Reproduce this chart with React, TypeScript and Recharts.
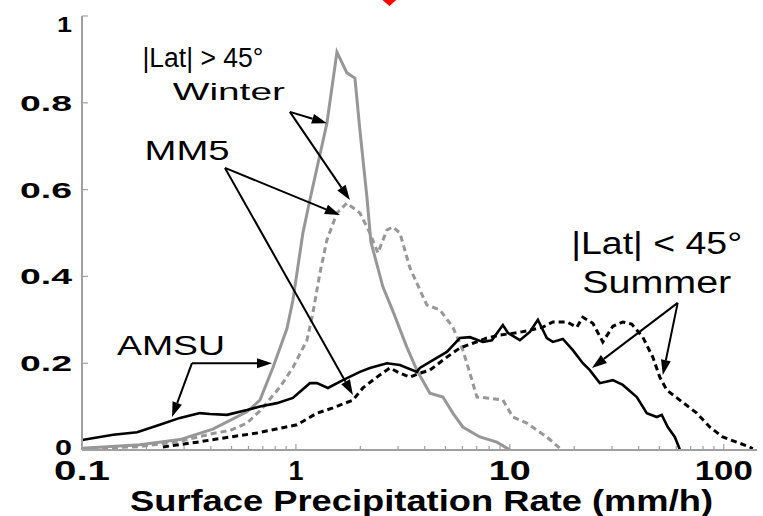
import React from 'react';
import { LineChart, Line, XAxis, YAxis, ReferenceLine, ReferenceDot, Label } from 'recharts';

// log-spaced x ticks (mm/h); only the decades get labels
const xMajorTicks = [0.1, 1, 10, 100];
const xMajorLabels = ['0.1', '1', '10', '100'];
const xMinorTicks = [0.2, 0.3, 0.4, 0.5, 0.6, 0.7, 0.8, 0.9, 2, 3, 4, 5, 6, 7, 8, 9, 20, 30, 40, 50, 60, 70, 80, 90];
const yTicks = [0, 0.2, 0.4, 0.6, 0.8, 1];
const yTickLabels = ['0', '0.2', '0.4', '0.6', '0.8', '1'];

// |Lat| > 45, winter - AMSU (grey solid)
const winterAmsuX = [0.1, 0.187, 0.287, 0.409, 0.59, 0.679, 0.781, 0.908, 0.968, 1.078, 1.162, 1.396, 1.555, 1.731, 1.887, 1.991, 2.147, 2.24, 2.55, 2.84, 3.3, 3.676, 4.229, 4.864, 5.415, 6.031, 7.243, 8.697, 10];
const winterAmsuY = [0.004, 0.012, 0.024, 0.048, 0.088, 0.115, 0.19, 0.28, 0.345, 0.5, 0.576, 0.753, 0.917, 0.869, 0.857, 0.737, 0.583, 0.48, 0.376, 0.32, 0.237, 0.184, 0.131, 0.122, 0.085, 0.053, 0.03, 0.018, 0];

// |Lat| > 45, winter - MM5 (grey dashed)
const winterMm5X = [0.1, 0.187, 0.287, 0.409, 0.492, 0.59, 0.679, 0.842, 0.968, 1.126, 1.2, 1.295, 1.396, 1.555, 1.731, 1.991, 2.217, 2.417, 2.662, 2.84, 3.062, 3.41, 3.796, 4.094, 4.71, 5.415, 6.031, 6.505, 7.014, 7.81, 9.275, 10.33, 12.0, 13.37, 14.89, 17.13];
const winterMm5Y = [0.002, 0.008, 0.02, 0.038, 0.045, 0.062, 0.09, 0.145, 0.19, 0.253, 0.315, 0.408, 0.484, 0.546, 0.569, 0.546, 0.5, 0.454, 0.507, 0.514, 0.5, 0.42, 0.369, 0.334, 0.323, 0.283, 0.23, 0.177, 0.122, 0.12, 0.115, 0.076, 0.062, 0.046, 0.03, 0.004];

// |Lat| < 45, summer - AMSU (black solid)
const summerAmsuX = [0.1, 0.14, 0.181, 0.231, 0.287, 0.356, 0.396, 0.476, 0.59, 0.679, 0.815, 0.968, 1.162, 1.254, 1.411, 1.658, 1.991, 2.217, 2.662, 3.062, 3.676, 3.796, 4.368, 5.078, 5.84, 6.505, 7.48, 8.24, 9.275, 9.79, 11.14, 12.4, 13.52, 14.89, 15.88, 17.69, 19.7, 21.94, 23.65, 26.34, 30.3, 33.73, 39.22, 43.67, 48.63, 51.3, 54.73, 59.02, 62.28];
const summerAmsuY = [0.023, 0.035, 0.041, 0.058, 0.074, 0.085, 0.083, 0.081, 0.092, 0.1, 0.108, 0.12, 0.154, 0.154, 0.143, 0.161, 0.18, 0.189, 0.2, 0.196, 0.18, 0.189, 0.207, 0.226, 0.258, 0.26, 0.249, 0.253, 0.288, 0.27, 0.253, 0.272, 0.3, 0.258, 0.249, 0.256, 0.23, 0.2, 0.184, 0.154, 0.161, 0.15, 0.122, 0.085, 0.076, 0.081, 0.053, 0.03, 0.002];

// |Lat| < 45, summer - MM5 (black dashed)
const summerMm5X = [0.239, 0.345, 0.492, 0.657, 0.842, 1.011, 1.254, 1.489, 1.847, 2.056, 2.391, 2.75, 3.062, 3.41, 3.796, 4.229, 5.078, 5.84, 6.718, 7.81, 8.981, 10.78, 12.4, 14.27, 15.88, 18.47, 20.57, 21.94, 24.43, 27.2, 30.3, 33.73, 37.15, 41.83, 46.58, 50.22, 54.15, 62.28, 74.79, 86.0, 98.9, 115.0, 132.3, 136.6];
const summerMm5Y = [0.007, 0.018, 0.03, 0.039, 0.05, 0.058, 0.085, 0.097, 0.115, 0.143, 0.168, 0.189, 0.177, 0.168, 0.177, 0.184, 0.214, 0.235, 0.246, 0.258, 0.265, 0.27, 0.276, 0.283, 0.295, 0.295, 0.283, 0.306, 0.292, 0.249, 0.285, 0.295, 0.29, 0.26, 0.214, 0.168, 0.138, 0.115, 0.085, 0.053, 0.03, 0.018, 0.007, 0.003];

const zip = (xs: number[], ys: number[]) => xs.map((x, i) => ({ x, y: ys[i] }));

const GRAY = '#979797';
const FRAME = '#a0a0a0';
const FONT = '"Liberation Sans", Arial, Helvetica, sans-serif';

// annotation texts and arrows, in data units
const notes = [
  { text: '|Lat| > 45°', x: 0.3675, y: 0.882, size: 27, w: 121 },
  { text: 'Winter', x: 0.486, y: 0.806, size: 24, w: 112 },
  { text: 'MM5', x: 0.31, y: 0.668, size: 27, w: 85 },
  { text: 'AMSU', x: 0.2606, y: 0.219, size: 27, w: 108 },
  { text: '|Lat| < 45°', x: 48.6, y: 0.452, size: 31, w: 171 },
  { text: 'Summer', x: 48.6, y: 0.362, size: 31, w: 149 },
];
const arrows = [
  [{ x: 0.937, y: 0.779 }, { x: 1.396, y: 0.753 }],
  [{ x: 0.937, y: 0.779 }, { x: 1.788, y: 0.576 }],
  [{ x: 0.466, y: 0.65 }, { x: 1.606, y: 0.5415 }],
  [{ x: 0.466, y: 0.65 }, { x: 1.847, y: 0.127 }],
  [{ x: 0.3266, y: 0.2 }, { x: 0.773, y: 0.2 }],
  [{ x: 0.3266, y: 0.2 }, { x: 0.2636, y: 0.076 }],
  [{ x: 60.9, y: 0.339 }, { x: 24.2, y: 0.189 }],
  [{ x: 60.9, y: 0.339 }, { x: 51.9, y: 0.173 }],
];

const Arrow = (props: any) => {
  const { x1, y1, x2, y2 } = props;
  const dx = x2 - x1, dy = y2 - y1;
  const len = Math.sqrt(dx * dx + dy * dy) || 1;
  const ux = dx / len, uy = dy / len;
  const hl = 15, hw = 5;
  const bx = x2 - ux * hl, by = y2 - uy * hl;
  const pts = `${x2},${y2} ${bx - uy * hw},${by + ux * hw} ${bx + uy * hw},${by - ux * hw}`;
  return (
    <g>
      <line x1={x1} y1={y1} x2={bx} y2={by} stroke="#000" strokeWidth={2} />
      <polygon points={pts} fill="#000" />
    </g>
  );
};

const noteShape = (n: any) => (props: any) => (
  <text x={props.cx} y={props.cy} textAnchor="middle" fontFamily={FONT} fontSize={n.size}
    textLength={n.w} lengthAdjust="spacingAndGlyphs" fill="#000">{n.text}</text>
);

const Diamond = (props: any) => {
  const { cx, cy } = props;
  return <polygon points={`${cx},${cy - 8} ${cx + 8},${cy} ${cx},${cy + 7} ${cx - 8},${cy}`} fill="#ff0000" />;
};

const xLabelWidth: Record<string, number> = { '0.1': 56, '1': 15, '10': 42, '100': 58 };
const yLabelWidth: Record<string, number> = { '0': 17, '1': 15 };

const BottomTick = (props: any) => {
  const { x, y, payload } = props;
  const i = xMajorTicks.indexOf(payload.value);
  const major = i >= 0;
  return (
    <g>
      <line x1={x} x2={x} y1={y} y2={y - (major ? 6 : 4)} stroke={FRAME} strokeWidth={1.2} />
      {major && (
        <text x={x} y={y + 30} textAnchor="middle" fontFamily={FONT} fontWeight="bold" fontSize={28}
          textLength={xLabelWidth[xMajorLabels[i]]} lengthAdjust="spacingAndGlyphs" fill="#000">
          {xMajorLabels[i]}
        </text>
      )}
    </g>
  );
};

const TopTick = (props: any) => {
  const { x, y, payload } = props;
  const major = xMajorTicks.indexOf(payload.value) >= 0;
  return <line x1={x} x2={x} y1={y} y2={y + (major ? 6 : 4)} stroke={FRAME} strokeWidth={1.2} />;
};

const LeftTick = (props: any) => {
  const { x, y, payload } = props;
  const lab = yTickLabels[yTicks.indexOf(payload.value)];
  const dy = lab === '1' ? 16 : lab === '0' ? 5 : 8;
  return (
    <g>
      <line x1={x} x2={x + 6} y1={y} y2={y} stroke={FRAME} strokeWidth={1.2} />
      <text x={x - 10} y={y + dy} textAnchor="end" fontFamily={FONT} fontWeight="bold" fontSize={22}
        textLength={yLabelWidth[lab] ?? 52} lengthAdjust="spacingAndGlyphs" fill="#000">{lab}</text>
    </g>
  );
};

const RightTick = (props: any) => {
  const { x, y } = props;
  return <line x1={x} x2={x - 7} y1={y} y2={y} stroke={FRAME} strokeWidth={1.2} />;
};

const AxisTitle = (props: any) => {
  const vb = props.viewBox;
  return (
    <text x={vb.x + vb.width / 2 + 2} y={511} textAnchor="middle" fontFamily={FONT} fontWeight="bold"
      fontSize={30} textLength={583} lengthAdjust="spacingAndGlyphs" fill="#000">
      Surface Precipitation Rate (mm/h)
    </text>
  );
};

const allXTicks = [...xMajorTicks, ...xMinorTicks].sort((a, b) => a - b);

export default function App() {
  return (
    <div style={{ position: 'absolute', left: 0, top: 0, width: 763, height: 516, background: '#fff' }}>
      <LineChart width={763} height={516} margin={{ top: 16, right: 6, left: 0, bottom: 0 }}>
        <XAxis xAxisId="b" dataKey="x" type="number" scale="log" domain={[0.1, 143]} allowDataOverflow
          ticks={allXTicks} interval={0} tick={<BottomTick />} tickLine={false} tickSize={0} tickMargin={0}
          height={66} axisLine={{ stroke: FRAME, strokeWidth: 2 }}>
          <Label content={<AxisTitle />} />
        </XAxis>
        <XAxis xAxisId="t" orientation="top" dataKey="x" type="number" scale="log" domain={[0.1, 143]} allowDataOverflow
          ticks={allXTicks} interval={0} tick={<TopTick />} tickLine={false} tickSize={0} tickMargin={0}
          height={0} axisLine={{ stroke: FRAME, strokeWidth: 2 }} />
        <YAxis yAxisId="l" type="number" domain={[0, 1]} ticks={yTicks} interval={0} tick={<LeftTick />}
          tickLine={false} tickSize={0} tickMargin={0} width={82} axisLine={{ stroke: FRAME, strokeWidth: 2 }} />
        <YAxis yAxisId="r" orientation="right" type="number" domain={[0, 1]} ticks={yTicks} interval={0}
          tick={<RightTick />} tickLine={false} tickSize={0} tickMargin={0} width={0}
          axisLine={{ stroke: FRAME, strokeWidth: 2 }} />

        <Line xAxisId="b" yAxisId="l" data={zip(winterAmsuX, winterAmsuY)} dataKey="y" type="linear"
          stroke={GRAY} strokeWidth={3} dot={false} isAnimationActive={false} />
        <Line xAxisId="b" yAxisId="l" data={zip(winterMm5X, winterMm5Y)} dataKey="y" type="linear"
          stroke={GRAY} strokeWidth={3} strokeDasharray="6 4" dot={false} isAnimationActive={false} />
        <Line xAxisId="b" yAxisId="l" data={zip(summerAmsuX, summerAmsuY)} dataKey="y" type="linear"
          stroke="#000" strokeWidth={2.6} dot={false} isAnimationActive={false} />
        <Line xAxisId="b" yAxisId="l" data={zip(summerMm5X, summerMm5Y)} dataKey="y" type="linear"
          stroke="#000" strokeWidth={3} strokeDasharray="6 4" dot={false} isAnimationActive={false} />

        {arrows.map((seg, i) => (
          <ReferenceLine key={'a' + i} xAxisId="b" yAxisId="l" segment={seg} ifOverflow="visible" shape={Arrow} />
        ))}
        {notes.map((n, i) => (
          <ReferenceDot key={'n' + i} xAxisId="b" yAxisId="l" x={n.x} y={n.y} r={0} ifOverflow="visible"
            shape={noteShape(n)} />
        ))}
        <ReferenceDot xAxisId="b" yAxisId="l" x={2.735} y={1.039} r={8} ifOverflow="visible" shape={Diamond} />
      </LineChart>
    </div>
  );
}
